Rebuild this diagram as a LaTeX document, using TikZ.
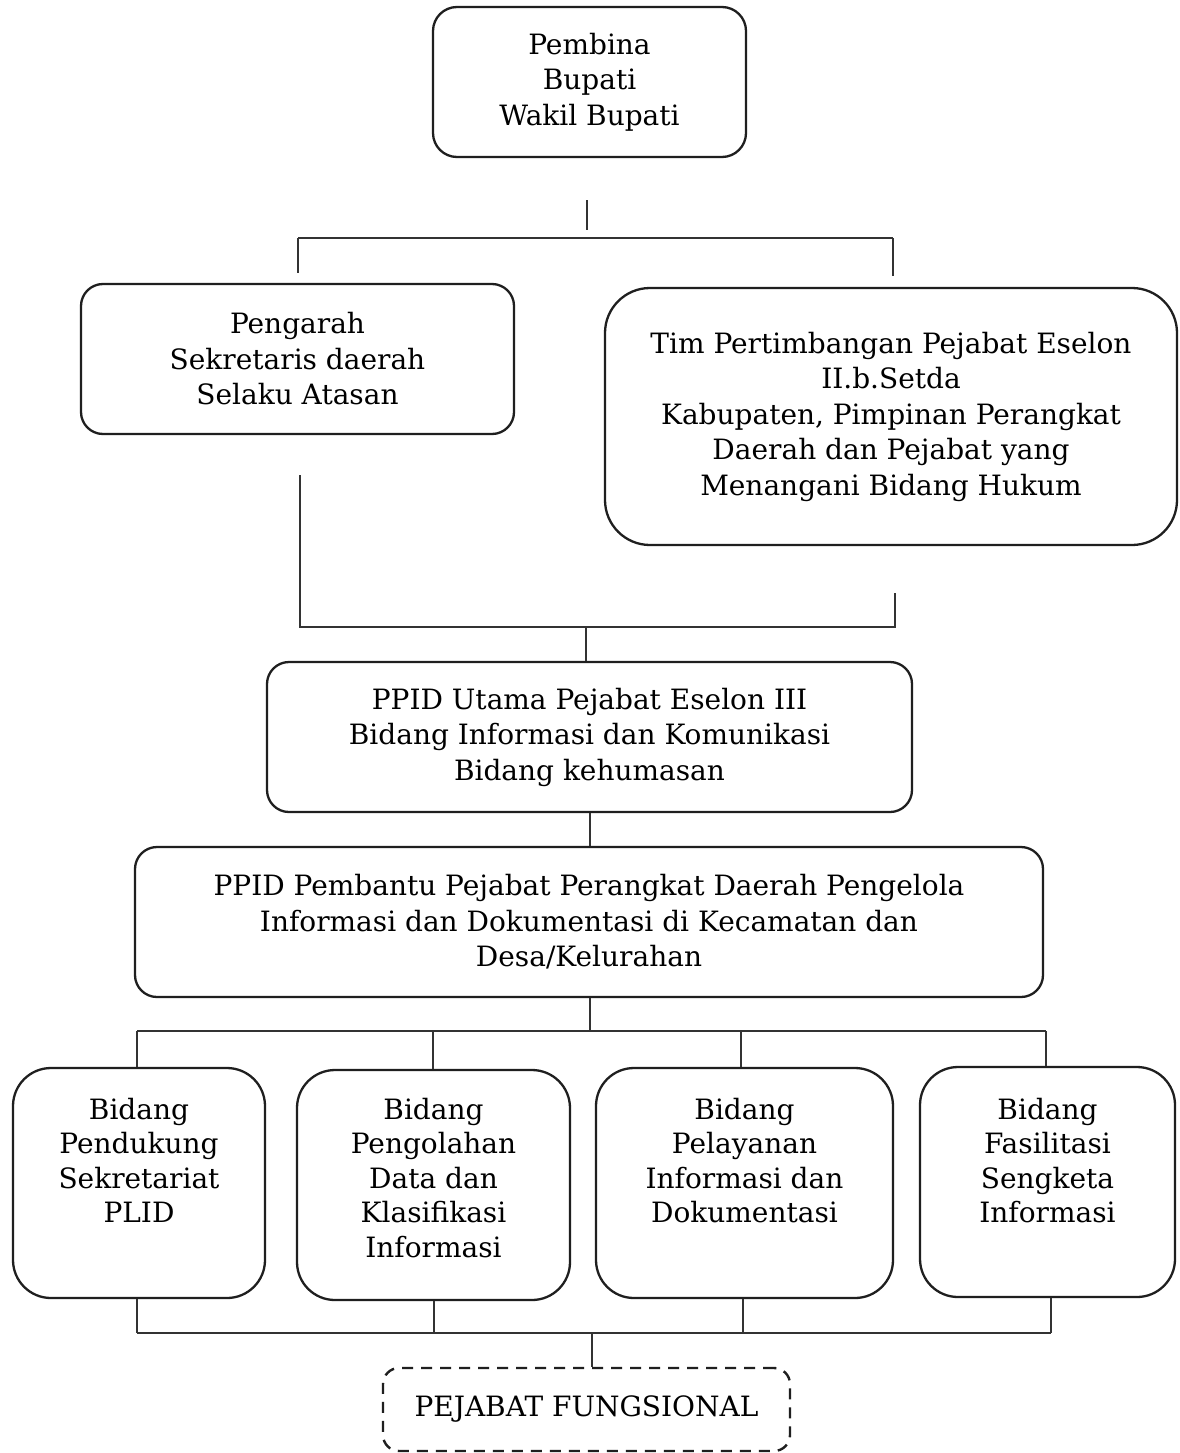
\documentclass[tikz,border=0pt]{standalone}
\usepackage{fontspec}
\setmainfont{DejaVu Serif}
\begin{document}
\begin{tikzpicture}[x=1pt,y=-1pt,
  box/.style={draw=black!88, line width=2.3pt, rounded corners=#1, inner sep=0pt, align=center,
    font=\fontsize{28}{35.5}\selectfont},
  box/.default=22pt,
  lbl/.style={inner sep=0pt, align=center, anchor=north, font=\fontsize{28}{34.5}\selectfont},
  conn/.style={draw=black!80, line width=1.4pt},
  dashbox/.style={draw=black!88, line width=2.4pt, rounded corners=16pt, dash pattern=on 11pt off 8pt,
    inner sep=0pt, align=center, font=\fontsize{28}{35}\selectfont}
]
\useasboundingbox (0,0) rectangle (1179,1453);
\fill[white] (0,0) rectangle (1179,1453);

% boxes
\node[box=24pt, minimum width=313pt, minimum height=150pt] (pembina) at (589.5,82)
  {Pembina\\Bupati\\Wakil Bupati};
\node[box=22pt, minimum width=433pt, minimum height=150pt] (pengarah) at (297.5,359)
  {Pengarah\\Sekretaris daerah\\Selaku Atasan};
\node[box=45pt, minimum width=572pt, minimum height=257pt] (tim) at (891,416.5)
  {Tim Pertimbangan Pejabat Eselon\\II.b.Setda\\Kabupaten, Pimpinan Perangkat\\Daerah dan Pejabat yang\\Menangani Bidang Hukum};
\node[box=22pt, minimum width=645pt, minimum height=150pt] (utama) at (589.5,737)
  {PPID Utama Pejabat Eselon III\\Bidang Informasi dan Komunikasi\\Bidang kehumasan};
\node[box=22pt, minimum width=908pt, minimum height=150pt] (pembantu) at (589,922)
  {PPID Pembantu Pejabat Perangkat Daerah Pengelola\\Informasi dan Dokumentasi di Kecamatan dan\\Desa/Kelurahan};

\node[box=38pt, minimum width=252pt, minimum height=230pt] (b1) at (139,1183) {};
\node[box=38pt, minimum width=273pt, minimum height=230pt] (b2) at (433.5,1185) {};
\node[box=38pt, minimum width=297pt, minimum height=230pt] (b3) at (744.5,1183) {};
\node[box=38pt, minimum width=255pt, minimum height=230pt] (b4) at (1047.5,1182) {};
\node[lbl] (b1t) at (139,1098) {Bidang\\Pendukung\\Sekretariat\\PLID};
\node[lbl] (b2t) at (433.5,1098) {Bidang\\Pengolahan\\Data dan\\Klasifikasi\\Informasi};
\node[lbl] (b3t) at (744.5,1098) {Bidang\\Pelayanan\\Informasi dan\\Dokumentasi};
\node[lbl] (b4t) at (1047.5,1098) {Bidang\\Fasilitasi\\Sengketa\\Informasi};

\node[dashbox, minimum width=407pt, minimum height=83pt] (fung) at (586.5,1409.5)
  {PEJABAT FUNGSIONAL};

% connector points
\coordinate (t0a) at (587,200);
\coordinate (t0b) at (587,230);
\coordinate (tl) at (298,238);
\coordinate (tr) at (893,238);
\coordinate (tld) at (298,273);
\coordinate (trd) at (893,276);
\coordinate (ml0) at (300,475);
\coordinate (mr0) at (895,593);
\coordinate (ml) at (300,627);
\coordinate (mr) at (895,627);
\coordinate (mm) at (586,627);
\coordinate (hl) at (137,1031);
\coordinate (hr) at (1046,1031);
\coordinate (hm) at (590,1031);
\coordinate (bl) at (137,1333);
\coordinate (br) at (1051,1333);
\coordinate (bm) at (592,1333);

% top group
\draw[conn] (t0a) -- (t0b);
\draw[conn] (tl) -- (tr);
\draw[conn] (tl) -- (tld);
\draw[conn] (tr) -- (trd);
% middle group
\draw[conn] (ml0) -- (ml) -- (mr) -- (mr0);
\draw[conn] (mm) -- (utama.north -| mm);
\draw[conn] (utama.south -| hm) -- (pembantu.north -| hm);
\draw[conn] (pembantu.south -| hm) -- (hm);
% distribution to bottom boxes
\draw[conn] (hl) -- (hr);
\draw[conn] (hl) -- (b1.north -| hl);
\draw[conn] (433,1031) -- (b2.north -| 433,0);
\draw[conn] (741,1031) -- (b3.north -| 741,0);
\draw[conn] (hr) -- (b4.north -| hr);
% collection below bottom boxes
\draw[conn] (b1.south -| bl) -- (bl);
\draw[conn] (b2.south -| 434,0) -- (434,1333);
\draw[conn] (b3.south -| 743,0) -- (743,1333);
\draw[conn] (b4.south -| br) -- (br);
\draw[conn] (bl) -- (br);
\draw[conn] (bm) -- (fung.north -| bm);
\end{tikzpicture}
\end{document}
